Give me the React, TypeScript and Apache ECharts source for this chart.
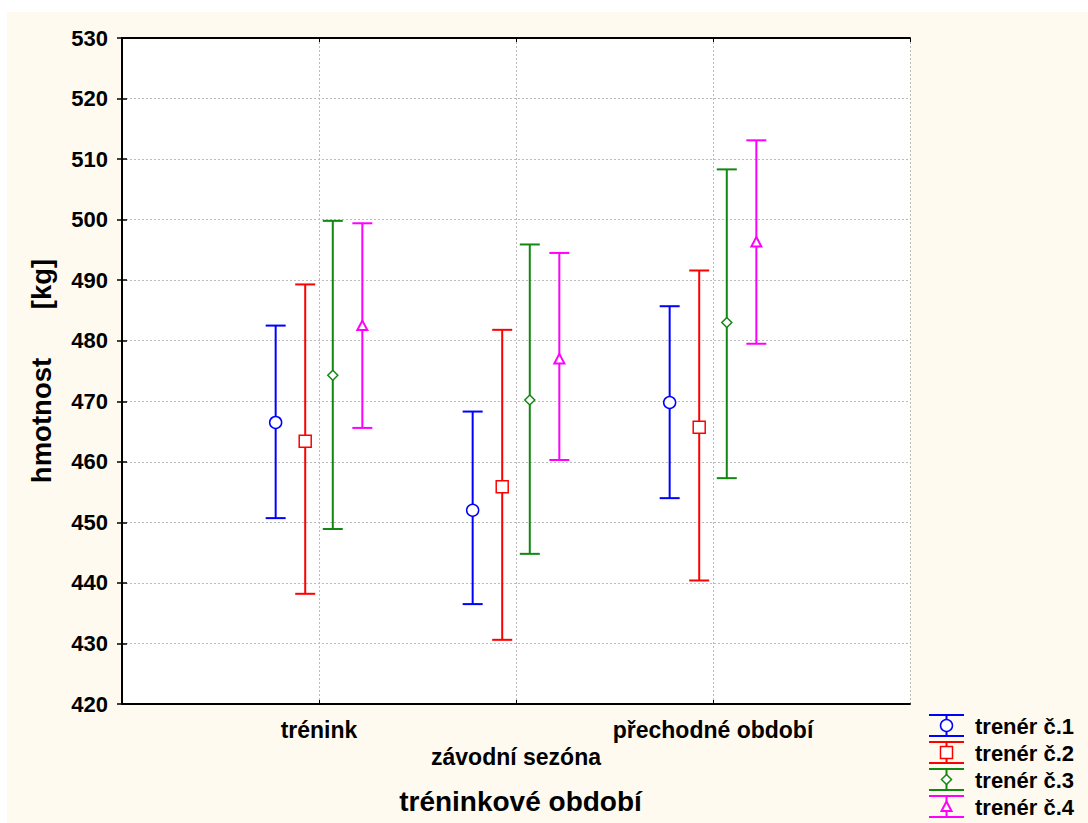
import React, { useEffect, useRef } from "react";
import * as echarts from "echarts";

const categories = ["trénink", "závodní sezóna", "přechodné období"];
const seriesNames = ["trenér č.1", "trenér č.2", "trenér č.3", "trenér č.4"];

const trainer1Mean = [466.5, 452.0, 469.8];
const trainer1Low = [450.7, 436.5, 454.0];
const trainer1High = [482.5, 468.3, 485.7];

const trainer2Mean = [463.4, 455.9, 465.7];
const trainer2Low = [438.2, 430.6, 440.4];
const trainer2High = [489.3, 481.8, 491.6];

const trainer3Mean = [474.3, 470.2, 483.0];
const trainer3Low = [448.9, 444.8, 457.3];
const trainer3High = [499.8, 495.9, 508.3];

const trainer4Mean = [482.5, 477.0, 496.3];
const trainer4Low = [465.6, 460.3, 479.5];
const trainer4High = [499.4, 494.5, 513.1];

const yMin = 420;
const yMax = 530;
const yStep = 10;

const FONT = "'Liberation Sans', Arial, Helvetica, sans-serif";
const colors = ["#0000ff", "#ff0000", "#118811", "#ff00ff"];
const markers = ["circle", "square", "diamond", "triangle"];
const offsets = [-0.22, -0.07, 0.07, 0.22];

const allData = [
  { mean: trainer1Mean, low: trainer1Low, high: trainer1High },
  { mean: trainer2Mean, low: trainer2Low, high: trainer2High },
  { mean: trainer3Mean, low: trainer3Low, high: trainer3High },
  { mean: trainer4Mean, low: trainer4Low, high: trainer4High },
];

function markerShape(kind: string, cx: number, cy: number, color: string) {
  const style = { fill: "#ffffff", stroke: color, lineWidth: 1.5 };
  if (kind === "circle") {
    return { type: "circle", shape: { cx, cy, r: 6 }, style };
  }
  if (kind === "square") {
    return { type: "rect", shape: { x: cx - 6, y: cy - 6, width: 12, height: 12 }, style };
  }
  if (kind === "diamond") {
    return {
      type: "polygon",
      shape: { points: [[cx, cy - 5], [cx + 5, cy], [cx, cy + 5], [cx - 5, cy]] },
      style,
    };
  }
  return {
    type: "polygon",
    shape: { points: [[cx, cy - 5], [cx + 5, cy + 4.5], [cx - 5, cy + 4.5]] },
    style: { ...style, lineWidth: 2 },
  };
}

export default function App() {
  const ref = useRef<HTMLDivElement>(null);

  useEffect(() => {
    if (!ref.current) return;
    const chart = echarts.init(ref.current, undefined, { renderer: "svg" });

    const series = allData.map((d, si) => ({
      name: seriesNames[si],
      type: "custom",
      clip: false,
      encode: { x: 0, y: [1, 2, 3] },
      data: categories.map((_, ci) => [ci + 1 + offsets[si], d.low[ci], d.high[ci], d.mean[ci]]),
      renderItem: (params: any, api: any) => {
        const x = api.value(0);
        const pHi = api.coord([x, api.value(2)]);
        const pLo = api.coord([x, api.value(1)]);
        const pM = api.coord([x, api.value(3)]);
        const c = colors[si];
        const ls = { stroke: c, lineWidth: 2 };
        return {
          type: "group",
          children: [
            { type: "line", shape: { x1: pHi[0], y1: pHi[1], x2: pLo[0], y2: pLo[1] }, style: ls },
            { type: "line", shape: { x1: pHi[0] - 10, y1: pHi[1], x2: pHi[0] + 10, y2: pHi[1] }, style: ls },
            { type: "line", shape: { x1: pLo[0] - 10, y1: pLo[1], x2: pLo[0] + 10, y2: pLo[1] }, style: ls },
            markerShape(markers[si], pM[0], pM[1], c),
          ],
        };
      },
    }));

    // legend drawn as graphic elements
    const legendEls: any[] = [];
    const legX1 = 922;
    const legX2 = 957;
    const legMid = (legX1 + legX2) / 2;
    seriesNames.forEach((name, i) => {
      const cy = 713.5 + i * 27;
      const c = colors[i];
      const ls = { stroke: c, lineWidth: 2 };
      legendEls.push(
        { type: "line", shape: { x1: legX1, y1: cy - 10.5, x2: legX2, y2: cy - 10.5 }, style: ls },
        { type: "line", shape: { x1: legX1, y1: cy + 10.5, x2: legX2, y2: cy + 10.5 }, style: ls },
        { type: "line", shape: { x1: legMid, y1: cy - 10.5, x2: legMid, y2: cy + 10.5 }, style: ls },
        markerShape(markers[i], legMid, cy, c),
        {
          type: "text",
          x: 968,
          y: cy + 0.5,
          style: {
            text: name,
            fill: "#000",
            fontSize: 22,
            fontWeight: "bold",
            fontFamily: FONT,
            align: "left",
            verticalAlign: "middle",
          },
        }
      );
    });

    const axisLineStyle = { color: "#000", width: 2 };
    const splitStyle = { color: "#bbbbbb", type: [2, 2] as any, width: 1 };

    chart.setOption({
      animation: false,
      backgroundColor: "#fffaf0",
      grid: {
        left: 115,
        top: 26,
        right: 178,
        bottom: 119,
        show: true,
        backgroundColor: "#ffffff",
        borderWidth: 0,
      },
      xAxis: [
        {
          type: "value",
          min: 0,
          max: 4,
          interval: 1,
          position: "bottom",
          axisLine: { show: true, lineStyle: axisLineStyle },
          axisTick: { show: true, inside: true, length: 4, lineStyle: { color: "#000", width: 1 } },
          splitLine: { show: true, lineStyle: splitStyle },
          axisLabel: {
            margin: 12,
            fontSize: 23,
            fontWeight: "bold",
            fontFamily: FONT,
            color: "#000",
            lineHeight: 27,
            showMinLabel: false,
            showMaxLabel: false,
            formatter: (v: number) => {
              const idx = Math.round(v) - 1;
              if (idx < 0 || idx >= categories.length) return "";
              return idx % 2 === 1 ? "\n" + categories[idx] : categories[idx];
            },
          },
        },
        {
          type: "value",
          min: 0,
          max: 4,
          interval: 1,
          position: "top",
          axisLine: { show: true, lineStyle: axisLineStyle },
          axisTick: { show: true, inside: true, length: 4, lineStyle: { color: "#000", width: 1 } },
          splitLine: { show: false },
          axisLabel: { show: false },
        },
      ],
      yAxis: [
        {
          type: "value",
          min: yMin,
          max: yMax,
          interval: yStep,
          position: "left",
          axisLine: { show: true, lineStyle: axisLineStyle },
          axisTick: { show: true, inside: true, length: 5, lineStyle: { color: "#000", width: 1.5 } },
          splitLine: { show: true, lineStyle: splitStyle },
          axisLabel: {
            margin: 14,
            fontSize: 22,
            fontWeight: "bold",
            fontFamily: FONT,
            color: "#000",
          },
        },
        {
          type: "value",
          min: yMin,
          max: yMax,
          interval: yStep,
          position: "right",
          axisLine: { show: true, lineStyle: axisLineStyle },
          axisTick: { show: true, inside: true, length: 5, lineStyle: { color: "#000", width: 1.5 } },
          splitLine: { show: false },
          axisLabel: { show: false },
        },
      ],
      graphic: [
        {
          type: "text",
          x: 513.5,
          y: 789.5,
          style: {
            text: "tréninkové období",
            fill: "#000",
            fontSize: 28,
            fontWeight: "bold",
            fontFamily: FONT,
            align: "center",
            verticalAlign: "middle",
          },
        },
        {
          type: "text",
          x: 34,
          y: 408.5,
          rotation: Math.PI / 2,
          style: {
            text: "hmotnost",
            fill: "#000",
            fontSize: 27.5,
            fontWeight: "bold",
            fontFamily: FONT,
            align: "center",
            verticalAlign: "middle",
          },
        },
        {
          type: "text",
          x: 34,
          y: 272,
          rotation: Math.PI / 2,
          style: {
            text: "[kg]",
            fill: "#000",
            fontSize: 27.5,
            fontWeight: "bold",
            fontFamily: FONT,
            align: "center",
            verticalAlign: "middle",
          },
        },
        ...legendEls,
      ],
      series,
    });

    return () => chart.dispose();
  }, []);

  return (
    <div
      ref={ref}
      style={{ position: "absolute", left: 7, top: 12, width: 1081, height: 811 }}
    />
  );
}
